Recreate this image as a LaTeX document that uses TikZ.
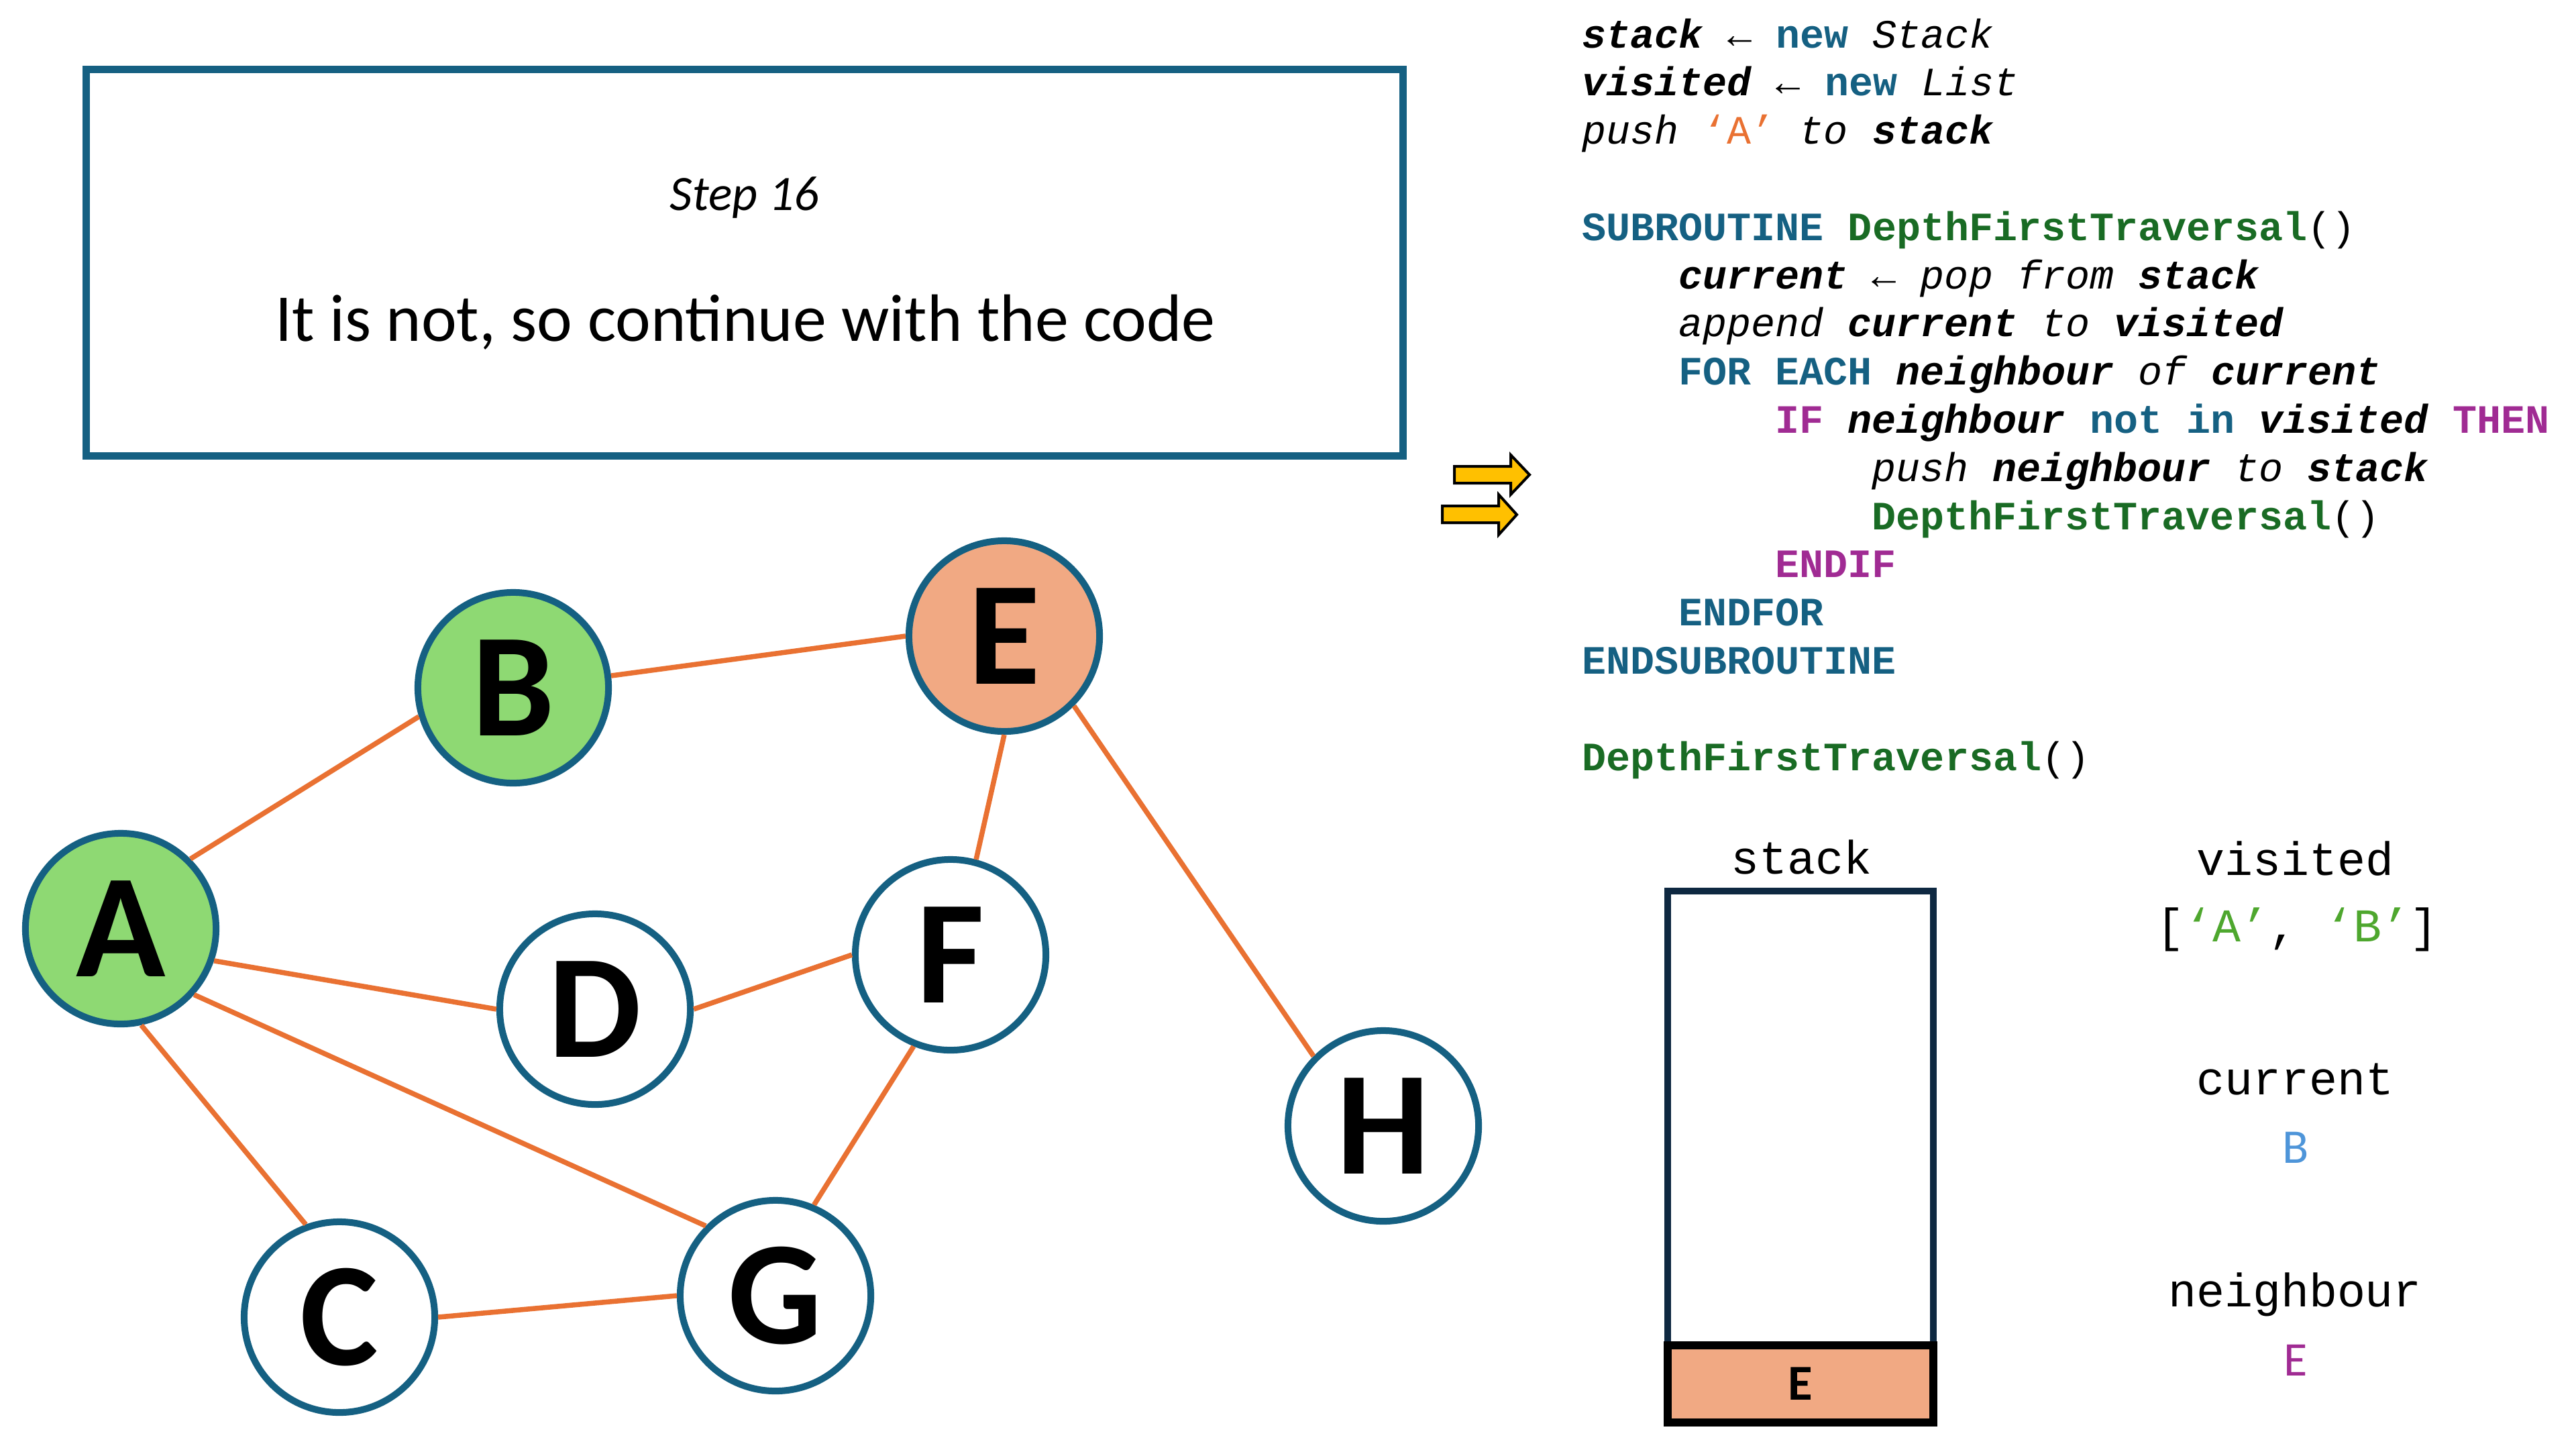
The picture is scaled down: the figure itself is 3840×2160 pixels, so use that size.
\documentclass[tikz,border=0pt]{standalone}
\usepackage{fontspec}
\setmainfont{Carlito}
\newfontfamily\codefont{Liberation Mono}

\definecolor{nodeblue}{HTML}{156082}
\definecolor{visitgreen}{HTML}{8ED973}
\definecolor{salmon}{HTML}{F1A983}
\definecolor{edgeorange}{HTML}{E97132}
\definecolor{kwblue}{HTML}{156082}
\definecolor{fngreen}{HTML}{196B24}
\definecolor{ifpurple}{HTML}{A02B93}
\definecolor{listgreen}{HTML}{4EA72E}
\definecolor{curblue}{HTML}{4E95D9}
\definecolor{navy}{HTML}{0E2841}
\definecolor{ptryellow}{HTML}{FFC000}

% pseudocode markup
\newcommand\cvar[1]{\textbf{\textit{#1}}}
\newcommand\cit[1]{\textit{#1}}
\newcommand\ckw[1]{\textbf{\color{kwblue}#1}}
\newcommand\cfn[1]{\textbf{\color{fngreen}#1}}
\newcommand\cif[1]{\textbf{\color{ifpurple}#1}}

\tikzset{
  vertex/.style={circle, draw=nodeblue, line width=0.1cm, minimum size=2.84cm,
    inner sep=0pt, fill=white, font=\fontsize{62.6pt}{64pt}\selectfont\bfseries},
  seen/.style={fill=visitgreen},
  focus/.style={fill=salmon},
  edge/.style={draw=edgeorange, line width=0.075cm},
  codeline/.style={anchor=base west, inner sep=0pt,
    font=\codefont\fontsize{17.07pt}{20pt}\selectfont},
  varname/.style={anchor=base, inner sep=0pt,
    font=\codefont\fontsize{19.9pt}{22pt}\selectfont},
  varvalue/.style={anchor=base, inner sep=0pt,
    font=\fontsize{20.5pt}{22pt}\selectfont},
  ptr/.style={fill=ptryellow, draw=black, line width=0.04cm, line join=miter},
}

\begin{document}
\begin{tikzpicture}[x=0.01cm, y={(0cm,-0.01cm)}]
\path[use as bounding box] (0,0) rectangle (3840,2160);

% caption box
\node[draw=nodeblue, line width=0.11cm, minimum width=19.62cm, minimum height=5.76cm,
  inner sep=0pt] (titlebox) at (1110,391.5) {};
\node[anchor=base, inner sep=0pt, font=\fontsize{21pt}{24pt}\selectfont\itshape]
  (steptext) at (1110,313) {Step 16};
\node[anchor=base, inner sep=0pt, font=\fontsize{28.4pt}{30pt}\selectfont]
  (msgtext) at (1111,508) {It is not, so continue with the code};

% graph
\node[vertex, seen]  (A) at (180,1384)  {A};
\node[vertex, seen]  (B) at (765,1025)  {B};
\node[vertex, focus] (E) at (1497,948)  {E};
\node[vertex]        (D) at (887,1504)  {D};
\node[vertex]        (F) at (1417,1423) {F};
\node[vertex]        (H) at (2062,1678) {H};
\node[vertex]        (C) at (506,1963)  {C};
\node[vertex]        (G) at (1156,1931) {G};

\draw[edge] (A.45)   -- (B.197);
\draw[edge] (B.7)    -- (E.180);
\draw[edge] (A.-19)  -- (D.180);
\draw[edge] (A.-42)  -- (G.135);
\draw[edge] (A.-78)  -- (C.110);
\draw[edge] (D.0)    -- (F.180);
\draw[edge] (E.-90)  -- (F.75);
\draw[edge] (E.-45)  -- (H.135);
\draw[edge] (F.-112) -- (G.67);
\draw[edge] (C.0)    -- (G.180);

% line pointers
\draw[ptr] (2168,695) -- (2252,695) -- (2252,678) -- (2280,707.5) -- (2252,737)
  -- (2252,720) -- (2168,720) -- cycle;
\draw[ptr] (2150,754) -- (2234,754) -- (2234,737) -- (2261,767) -- (2234,797)
  -- (2234,779) -- (2150,779) -- cycle;

% pseudocode
\node[codeline] (code0)  at (2358,71)     {\cvar{stack} ← \ckw{new} \cit{Stack}};
\node[codeline] (code1)  at (2358,142.8)  {\cvar{visited} ← \ckw{new} \cit{List}};
\node[codeline] (code2)  at (2358,214.6)  {\cit{push} {\color{edgeorange}‘A’} \cit{to} \cvar{stack}};
\node[codeline] (code4)  at (2358,358.2)  {\ckw{SUBROUTINE} \cfn{DepthFirstTraversal}()};
\node[codeline] (code5)  at (2502,430)    {\cvar{current} ← \cit{pop from} \cvar{stack}};
\node[codeline] (code6)  at (2502,501.8)  {\cit{append} \cvar{current} \cit{to} \cvar{visited}};
\node[codeline] (code7)  at (2502,573.6)  {\ckw{FOR EACH} \cvar{neighbour} \cit{of} \cvar{current}};
\node[codeline] (code8)  at (2646,645.4)  {\cif{IF} \cvar{neighbour} \ckw{not in} \cvar{visited} \cif{THEN}};
\node[codeline] (code9)  at (2790,717.2)  {\cit{push} \cvar{neighbour} \cit{to} \cvar{stack}};
\node[codeline] (code10) at (2790,789)    {\cfn{DepthFirstTraversal}()};
\node[codeline] (code11) at (2646,860.8)  {\cif{ENDIF}};
\node[codeline] (code12) at (2502,932.6)  {\ckw{ENDFOR}};
\node[codeline] (code13) at (2358,1004.4) {\ckw{ENDSUBROUTINE}};
\node[codeline] (code15) at (2358,1148)   {\cfn{DepthFirstTraversal}()};

% stack
\node[varname] (stacklabel) at (2685,1302) {stack};
\node[draw=navy, line width=0.1cm, minimum width=3.96cm, minimum height=7.93cm,
  inner sep=0pt] (stackbox) at (2684,1724.5) {};
\node[draw=black, fill=salmon, line width=0.12cm, minimum width=3.96cm,
  minimum height=1.145cm, inner sep=0pt,
  font=\fontsize{21.3pt}{23pt}\selectfont\bfseries] (topcell) at (2684,2062.5) {E};

% variables
\node[varname] (visitedlabel) at (3421,1304) {visited};
\node[varname] (visitedlist) at (3424,1403)
  {[{\color{listgreen}‘A’}, {\color{listgreen}‘B’}]};
\node[varname] (currentlabel) at (3421,1631) {current};
\node[varvalue, text=curblue] (currentval) at (3422,1733) {B};
\node[varname] (neighlabel) at (3421,1947) {neighbour};
\node[varvalue, text=ifpurple] (neighval) at (3422,2050) {E};
\end{tikzpicture}
\end{document}
